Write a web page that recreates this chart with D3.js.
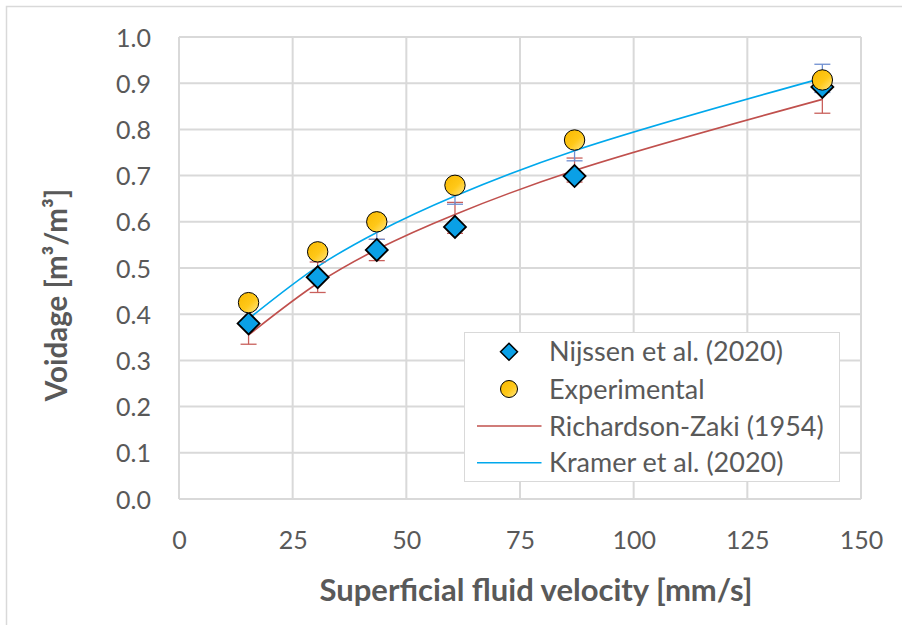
<!DOCTYPE html>
<html><head><meta charset="utf-8">
<script src="https://cdn.jsdelivr.net/npm/d3@7"></script>
<style>body{margin:0;background:#fff}svg{display:block}</style>
</head><body>
<svg id="c" width="902" height="625"></svg>
<script>
// ---- data ----
const velocity = [15.3, 30.5, 43.5, 60.7, 87.0, 141.5];
const nijssen = [0.380, 0.480, 0.539, 0.589, 0.699, 0.892];
const experimental = [0.425, 0.535, 0.600, 0.679, 0.777, 0.907];
const richardsonZaki = [0.355, 0.467, 0.540, 0.616, 0.711, 0.865];
const kramer = [0.390, 0.503, 0.577, 0.656, 0.754, 0.911];
const nijssenErrLo = [0.335, 0.447, 0.516, 0.575, 0.686, 0.835];
const nijssenErrHi = [0.425, 0.513, 0.562, 0.642, 0.738, 0.900];
const expErrLo = [0.410, 0.520, 0.562, 0.638, 0.732, 0.880];
const expErrHi = [0.440, 0.550, 0.615, 0.690, 0.790, 0.941];
const xTicks = [0, 25, 50, 75, 100, 125, 150];
const yTicks = [0, 0.1, 0.2, 0.3, 0.4, 0.5, 0.6, 0.7, 0.8, 0.9, 1.0];
const legendLabels = ["Nijssen et al. (2020)", "Experimental", "Richardson-Zaki (1954)", "Kramer et al. (2020)"];

const FONT = "Lato, 'Open Sans', sans-serif";
const svg = d3.select("#c");
const x = d3.scaleLinear().domain([0,150]).range([179, 861]);
const y = d3.scaleLinear().domain([0,1]).range([499, 37]);

// outer frame
svg.append("rect").attr("x",6.5).attr("y",6.5).attr("width",910).attr("height",640)
  .attr("fill","none").attr("stroke","#d9d9d9").attr("stroke-width",1.5);

const defs = svg.append("defs");
const g1 = defs.append("linearGradient").attr("id","gold").attr("x1","0").attr("y1","0").attr("x2","1").attr("y2","1");
g1.append("stop").attr("offset","0%").attr("stop-color","#f8b800");
g1.append("stop").attr("offset","55%").attr("stop-color","#ffc818");
g1.append("stop").attr("offset","100%").attr("stop-color","#ffe98a");

// gridlines
svg.append("g").selectAll("line").data(yTicks).join("line")
  .attr("x1",x(0)).attr("x2",x(150)).attr("y1",d=>y(d)).attr("y2",d=>y(d))
  .attr("stroke","#d9d9d9").attr("stroke-width",2);
svg.append("g").selectAll("line").data(xTicks).join("line")
  .attr("x1",d=>x(d)).attr("x2",d=>x(d)).attr("y1",y(0)).attr("y2",y(1))
  .attr("stroke","#d9d9d9").attr("stroke-width",2);

// axes (labels only)
const xAxis = d3.axisBottom(x).tickValues(xTicks).tickSize(0).tickPadding(0).tickFormat(d3.format("d"));
const gx = svg.append("g").attr("transform",`translate(0,${y(0)+50})`).call(xAxis);
gx.select(".domain").remove();
gx.selectAll("text").attr("font-family",FONT).attr("font-size",25).attr("fill","#595959").attr("dy",0);

const yAxis = d3.axisLeft(y).tickValues(yTicks).tickSize(0).tickPadding(0).tickFormat(d3.format(".1f"));
const gy = svg.append("g").attr("transform",`translate(151,0)`).call(yAxis);
gy.select(".domain").remove();
gy.selectAll("text").attr("font-family",FONT).attr("font-size",25).attr("fill","#595959").attr("dy","0.36em");

// axis titles
svg.append("text").attr("x",536).attr("y",601).attr("text-anchor","middle")
  .attr("font-family",FONT).attr("font-weight","bold").attr("font-size",31).attr("fill","#595959")
  .text("Superficial fluid velocity [mm/s]");
svg.append("text").attr("transform","translate(67,295) rotate(-90)").attr("text-anchor","middle")
  .attr("font-family",FONT).attr("font-weight","bold").attr("font-size",29.5).attr("fill","#595959")
  .text("Voidage [m³/m³]");

// curves
const line = arr => d3.line().x((d,i)=>x(velocity[i])).y(d=>y(d)).curve(d3.curveCatmullRom.alpha(0.5))(arr);
svg.append("path").attr("d",line(richardsonZaki)).attr("fill","none").attr("stroke","#c0504d").attr("stroke-width",1.6);
svg.append("path").attr("d",line(kramer)).attr("fill","none").attr("stroke","#00a8ec").attr("stroke-width",1.6);

// error bars
function errBars(lo, hi, color){
  const g = svg.append("g").attr("stroke",color).attr("stroke-width",1.3);
  velocity.forEach((v,i)=>{
    g.append("line").attr("x1",x(v)).attr("x2",x(v)).attr("y1",y(lo[i])).attr("y2",y(hi[i]));
    [lo[i],hi[i]].forEach(e=>g.append("line").attr("x1",x(v)-8).attr("x2",x(v)+8).attr("y1",y(e)).attr("y2",y(e)));
  });
}
errBars(nijssenErrLo, nijssenErrHi, "#c9605c");
errBars(expErrLo, expErrHi, "#6f8fd0");

// markers
const diamond = s => `M0,${-s}L${s},0L0,${s}L${-s},0Z`;
svg.append("g").selectAll("path").data(nijssen).join("path")
  .attr("transform",(d,i)=>`translate(${x(velocity[i])},${y(d)})`)
  .attr("d",diamond(11)).attr("fill","#0aa0e6").attr("stroke","#000").attr("stroke-width",1.8);
svg.append("g").selectAll("circle").data(experimental).join("circle")
  .attr("cx",(d,i)=>x(velocity[i])).attr("cy",d=>y(d)).attr("r",10.2)
  .attr("fill","url(#gold)").attr("stroke","#000").attr("stroke-width",1);

// legend
svg.append("rect").attr("x",464.5).attr("y",332.5).attr("width",375).attr("height",149)
  .attr("fill","#fff").attr("stroke","#d9d9d9").attr("stroke-width",1);
const ly = [351.7, 389, 426, 462.7];
const lg = svg.append("g");
lg.append("path").attr("transform",`translate(509,${ly[0]})`).attr("d",diamond(8.5))
  .attr("fill","#0aa0e6").attr("stroke","#000").attr("stroke-width",1.5);
lg.append("circle").attr("cx",509).attr("cy",ly[1]).attr("r",8.5)
  .attr("fill","url(#gold)").attr("stroke","#000").attr("stroke-width",1);
lg.append("line").attr("x1",477).attr("x2",541.5).attr("y1",ly[2]).attr("y2",ly[2]).attr("stroke","#c0504d").attr("stroke-width",1.6);
lg.append("line").attr("x1",477).attr("x2",541.5).attr("y1",ly[3]).attr("y2",ly[3]).attr("stroke","#00a8ec").attr("stroke-width",1.6);
lg.selectAll("text").data(legendLabels).join("text")
  .attr("x",549).attr("y",(d,i)=>ly[i]).attr("dy","0.36em")
  .attr("font-family",FONT).attr("font-size",27).attr("fill","#595959").text(d=>d);
</script>
</body></html>
